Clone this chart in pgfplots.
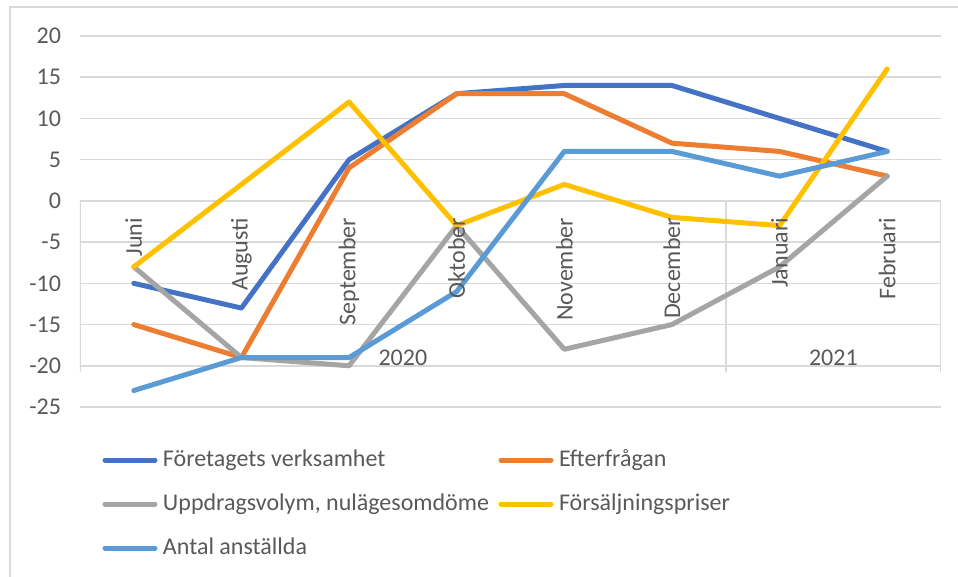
\documentclass[border=0pt]{standalone}
\usepackage{fontspec}
\setmainfont{Carlito}
\usepackage{pgfplots}
\pgfplotsset{compat=1.18}

\definecolor{cblue}{HTML}{4472C4}
\definecolor{corange}{HTML}{ED7D31}
\definecolor{cgray}{HTML}{A5A5A5}
\definecolor{cyellow}{HTML}{FFC000}
\definecolor{clblue}{HTML}{5B9BD5}
\definecolor{gridc}{HTML}{D9D9D9}
\definecolor{txt}{HTML}{595959}

\pgfplotsset{
  frame/.style={
    at={(0,0)}, anchor=south west,
    scale only axis, width=430.5pt, height=185.5pt,
    xmin=-0.5, xmax=7.5, ymin=-25, ymax=20,
    axis line style={draw=none},
    major tick length=0pt,
  },
}

\begin{document}
\begin{tikzpicture}[font=\fontsize{12}{14}\selectfont]
\begin{axis}[
  frame,
  axis x line*=middle, axis y line*=left,
  xtick={0,...,7}, xticklabels={},
  ytick={-25,-20,...,20},
  ymajorgrids, grid style={gridc, line width=0.8pt},
  yticklabel style={text=txt, xshift=-6pt},
  /pgf/number format/assume math mode=true,
  legend columns=2,
  legend cell align=left,
  legend image code/.code={\draw[#1, line width=2.5pt, line cap=round] (0pt,0pt) -- (25pt,0pt);},
  legend style={at={(0,0)}, anchor=north west, xshift=11.25pt, yshift=-20.5pt,
    draw=none, fill=none, inner sep=0pt, outer sep=0pt, row sep=10pt,
    nodes={text=txt, inner sep=0pt, text height=9pt, text depth=3pt},
    /tikz/every odd column/.append style={column sep=2.75pt},
    /tikz/every even column/.append style={column sep=4.75pt}},
  every axis plot/.append style={line width=2.5pt, line join=round, line cap=round},
]
% category group separators and year labels
\draw[gridc, line width=0.8pt] (axis cs:-0.5,0) -- (axis cs:-0.5,-20.75);
\draw[gridc, line width=0.8pt] (axis cs:5.5,0) -- (axis cs:5.5,-20.75);
\draw[gridc, line width=0.8pt] (axis cs:7.5,0) -- (axis cs:7.5,-20.75);
\node[text=txt, inner sep=0pt] at (axis cs:2.5,-19) {2020};
\node[text=txt, inner sep=0pt] at (axis cs:6.5,-19) {2021};

\addplot[cblue] coordinates {(0,-10) (1,-13) (2,5) (3,13) (4,14) (5,14) (6,10) (7,6)};
\addlegendentry{Företagets verksamhet}
\addplot[corange] coordinates {(0,-15) (1,-19) (2,4) (3,13) (4,13) (5,7) (6,6) (7,3)};
\addlegendentry{Efterfrågan}
\addplot[cgray] coordinates {(0,-8) (1,-19) (2,-20) (3,-3) (4,-18) (5,-15) (6,-8) (7,3)};
\addlegendentry{Uppdragsvolym, nulägesomdöme}
\addplot[cyellow] coordinates {(0,-8) (1,2) (2,12) (3,-3) (4,2) (5,-2) (6,-3) (7,16)};
\addlegendentry{Försäljningspriser}
\addplot[clblue] coordinates {(0,-23) (1,-19) (2,-19) (3,-11) (4,6) (5,6) (6,3) (7,6)};
\addlegendentry{Antal anställda}
\end{axis}

% month labels on top of the lines, as in the reference
\begin{axis}[
  frame,
  axis x line*=middle, hide y axis,
  xtick={0,...,7},
  xticklabels={Juni,Augusti,September,Oktober,November,December,Januari,Februari},
  % shifts act in the rotated frame: xshift<0 moves the label down
  xticklabel style={rotate=90, anchor=east, text=txt, xshift=-5pt},
]
\end{axis}

% chart frame (reference is cropped on the right and at the bottom)
\draw[gridc, line width=0.8pt] (-35pt,-95pt) rectangle (450pt,200pt);
% visible window
\pgfresetboundingbox
\path[use as bounding box] (-40pt,-85pt) rectangle (439pt,203.5pt);
\end{tikzpicture}
\end{document}
